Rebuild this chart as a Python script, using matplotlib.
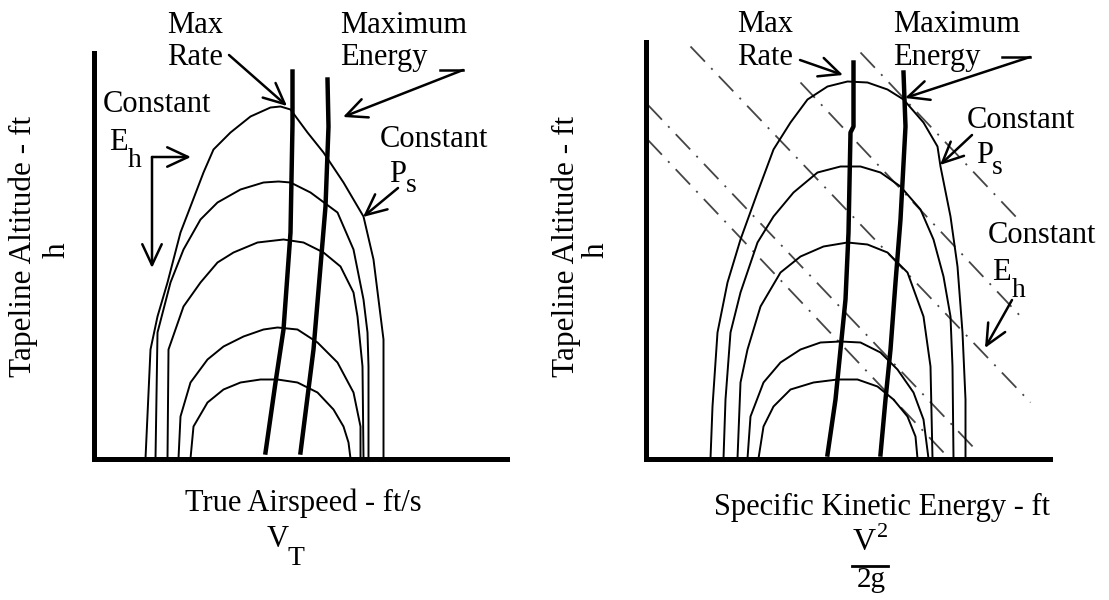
import matplotlib
matplotlib.use("Agg")
import matplotlib.pyplot as plt

plt.rcParams['font.family'] = ['Liberation Serif', 'DejaVu Serif']

# ---------------- data (schematic units: airspeed / energy vs altitude) -----
# Left panel: constant Ps contours in the V_T - h plane
left_ps1 = [(52, 0), (57, 109), (64, 142), (74, 176), (87, 226), (97, 252), (110, 286),
            (120, 309), (137, 326), (157, 342), (177, 351), (187, 352), (197, 349),
            (214, 326), (230, 306), (250, 276), (270, 242), (280, 199), (285, 159),
            (290, 119), (290, 0)]
left_ps2 = [(62, 0), (64, 126), (77, 176), (90, 209), (107, 239), (124, 256), (147, 269),
            (170, 276), (185, 277), (197, 276), (217, 266), (244, 246), (260, 209),
            (270, 159), (274, 126), (275, 92), (275, 0)]
left_ps3 = [(74, 0), (75, 109), (90, 152), (107, 176), (124, 196), (140, 206), (164, 216),
            (190, 219), (210, 216), (230, 206), (247, 192), (260, 166), (264, 142),
            (269, 92), (270, 0)]
left_ps4 = [(85, 0), (87, 42), (97, 76), (114, 99), (130, 112), (150, 122), (170, 129),
            (184, 131), (204, 129), (224, 116), (244, 96), (260, 66), (267, 32), (267, 0)]
left_ps5 = [(97, 0), (100, 32), (114, 56), (130, 69), (147, 76), (167, 79), (184, 79),
            (204, 76), (224, 66), (240, 49), (250, 32), (255, 16), (257, 0)]
left_max_rate = [(199, 387), (199, 334), (197, 226), (190, 129), (182, 76), (172, 6)]
left_max_energy = [(234, 379), (235, 332), (232, 252), (227, 192), (220, 109), (207, 6)]

# Right panel: constant Ps contours in the V^2/2g - h plane
right_ps1 = [(65, 0), (67, 52), (72, 126), (82, 176), (95, 219), (112, 266), (128, 309),
             (145, 336), (162, 359), (182, 372), (202, 377), (222, 376), (242, 369),
             (258, 359), (278, 336), (292, 312), (295, 292), (305, 242), (312, 192),
             (317, 126), (320, 59), (320, 0)]
right_ps2 = [(78, 0), (80, 59), (85, 126), (95, 166), (112, 216), (128, 242), (148, 266),
             (172, 286), (195, 292), (215, 292), (235, 286), (255, 272), (275, 249),
             (288, 219), (298, 182), (305, 142), (307, 92), (308, 0)]
right_ps3 = [(92, 0), (95, 76), (102, 109), (115, 152), (135, 186), (155, 202), (178, 212),
             (202, 216), (222, 214), (242, 206), (262, 186), (278, 142), (285, 92), (287, 0)]
right_ps4 = [(102, 0), (105, 42), (118, 76), (135, 96), (155, 109), (175, 116), (195, 117),
             (215, 116), (235, 106), (252, 89), (268, 66), (278, 39), (283, 0)]
right_ps5 = [(113, 0), (118, 32), (128, 52), (145, 69), (168, 76), (192, 79), (212, 79),
             (232, 72), (248, 59), (262, 42), (270, 22), (272, 0)]
right_max_rate = [(208, 396), (208, 332), (205, 326), (203, 226), (200, 159), (195, 109),
                  (190, 59), (182, 4)]
right_max_energy = [(258, 386), (260, 332), (255, 239), (250, 176), (245, 109), (240, 59),
                    (235, 4)]
# Constant Eh lines (straight, slope -1 in energy units)
right_eh1 = [(45, 412), (385, 56)]
right_eh2 = [(155, 376), (378, 139)]
right_eh3 = [(215, 406), (372, 240)]
right_eh4 = [(2, 354), (330, 9)]
right_eh5 = [(2, 319), (300, 4)]

# ---------------- figure ----------------
W, H = 1109, 600
fig = plt.figure(figsize=(W / 100, H / 100), dpi=100)


def panel(x0, y0, x1, y1):
    ax = fig.add_axes([x0 / W, (H - y0) / H, (x1 - x0) / W, (y0 - y1) / H])
    ax.set_xlim(0, x1 - x0)
    ax.set_ylim(0, y0 - y1)
    for s in ('top', 'right'):
        ax.spines[s].set_visible(False)
    for s in ('left', 'bottom'):
        ax.spines[s].set_linewidth(3.6)
        ax.spines[s].set_capstyle('projecting')
    ax.set_xticks([])
    ax.set_yticks([])
    ax.patch.set_visible(False)
    return ax


def draw(ax, pts, **kw):
    xs = [p[0] for p in pts]
    ys = [p[1] for p in pts]
    ax.plot(xs, ys, clip_on=False, solid_joinstyle='round', **kw)


axL = panel(93.5, 458.5, 507, 53)
axR = panel(645.5, 458.5, 1050, 42)

thin = dict(color='black', lw=1.4)
thick = dict(color='black', lw=3.2)
dashdot = dict(color='#454545', lw=1.3, linestyle=(0, (11.6, 5.0, 1.1, 5.0)))

for c in (left_ps1, left_ps2, left_ps3, left_ps4, left_ps5):
    draw(axL, c, **thin)
draw(axL, left_max_rate, **thick)
draw(axL, left_max_energy, **thick)

for c in (right_eh1, right_eh2, right_eh3, right_eh4, right_eh5):
    draw(axR, c, **dashdot)
for c in (right_ps1, right_ps2, right_ps3, right_ps4, right_ps5):
    draw(axR, c, **thin)
draw(axR, right_max_rate, **thick)
draw(axR, right_max_energy, **thick)

# ---------------- annotation overlay (pixel coordinates) ----------------
ov = fig.add_axes([0, 0, 1, 1], zorder=5)
ov.set_xlim(0, W)
ov.set_ylim(H, 0)
ov.axis('off')
ov.patch.set_visible(False)

FS = 22
SUB = 20


def txt(x, y, s, fs=FS, **kw):
    ov.text(x, y, s, fontsize=fs, va='baseline', ha='left', **kw)


def arrow(start, tip, lw=1.8):
    ov.annotate('', xy=tip, xytext=start,
                arrowprops=dict(arrowstyle='->,head_length=0.75,head_width=0.35',
                                lw=lw, color='black', shrinkA=0, shrinkB=0,
                                mutation_scale=20))


def seg(p, q, lw=1.8):
    ov.plot([p[0], q[0]], [p[1], q[1]], color='black', lw=lw)


# Left panel labels
txt(167, 33, 'Max')
txt(167, 65, 'Rate')
arrow((229, 55), (287, 106))
txt(340, 33, 'Maximum')
txt(340, 65, 'Energy')
seg((440, 70), (463, 70))
arrow((463, 70), (343, 117))
txt(103, 112, 'Constant')
txt(109, 150, 'E')
txt(128, 167, 'h', fs=SUB)
arrow((152, 157), (152, 268))
arrow((152, 157), (191, 157))
txt(380, 147, 'Constant')
txt(389, 182, 'P')
txt(406, 192, 's', fs=SUB)
arrow((398, 188), (363, 217))

# Right panel labels
txt(737, 32, 'Max')
txt(737, 65, 'Rate')
arrow((800, 60), (843, 75))
txt(893, 32, 'Maximum')
txt(893, 65, 'Energy')
seg((1002, 57), (1030, 57))
arrow((1030, 57), (905, 98))
txt(967, 128, 'Constant')
txt(976, 163, 'P')
txt(992, 174, 's', fs=SUB)
arrow((972, 135), (940, 165))
txt(988, 243, 'Constant')
txt(992, 280, 'E')
txt(1012, 297, 'h', fs=SUB)
arrow((1012, 300), (985, 348))

# Axis titles
for xl, xh in ((23, 57), (566, 596)):
    ov.text(xl, 377, 'Tapeline Altitude - ft', fontsize=22.5, rotation=90,
            rotation_mode='anchor', ha='left', va='center')
    ov.text(xh, 250, 'h', fontsize=22.5, rotation=90, ha='center', va='center')

ov.text(303, 511, 'True Airspeed - ft/s', fontsize=FS, ha='center', va='baseline')
txt(267, 547, 'V', fs=22)
txt(287, 565, 'T', fs=20)

ov.text(882, 515, 'Specific Kinetic Energy - ft', fontsize=FS, ha='center', va='baseline')
txt(853, 550, 'V', fs=23)
txt(877, 537, '2', fs=16)
seg((852, 566), (888, 566), lw=2.0)
txt(857, 587, '2g', fs=21)

fig.savefig('out.png', dpi=100)
